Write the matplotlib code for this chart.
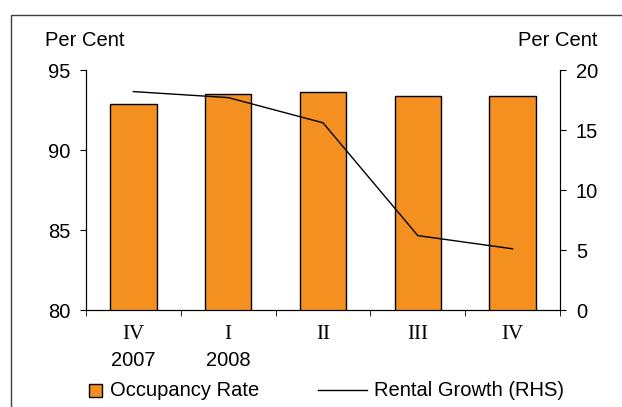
import numpy as np
import matplotlib.pyplot as plt
from matplotlib.patches import Rectangle
from matplotlib.lines import Line2D
import matplotlib.transforms as mtransforms

quarters = ["IV", "I", "II", "III", "IV"]
years = ["2007", "2008", "", "", ""]
occupancy = [92.85, 93.5, 93.6, 93.35, 93.35]
rental_growth = [18.2, 17.7, 15.6, 6.2, 5.1]

plt.rcParams['font.family'] = ['Liberation Sans', 'DejaVu Sans']
fs = 14.5
orange = '#F39020'

W, H = 622, 407
fig = plt.figure(figsize=(W / 100, H / 100), dpi=100)
fig.patches.append(Rectangle((11 / W, -0.1), 1.2, 1 - 15 / H + 0.1, transform=fig.transFigure,
                             fill=False, edgecolor='#404040', linewidth=1))

ax = fig.add_axes([86 / W, 1 - 310 / H, 474 / W, 240 / H])
x = np.arange(len(quarters))
ax.bar(x, occupancy, width=0.49, color=orange, edgecolor='black', linewidth=1, zorder=2)
ax.set_ylim(80, 95)
ax.set_xlim(-0.5, len(quarters) - 0.5)
ax.set_yticks([80, 85, 90, 95])
ax.tick_params(axis='y', direction='out', length=4.5, labelsize=fs, pad=7)

ax.set_xticks(x)
ax.set_xticklabels(quarters, family='Liberation Serif', fontsize=fs + 0.5)
ax.set_xticks(np.arange(len(quarters) + 1) - 0.5, minor=True)
ax.tick_params(axis='x', which='major', length=0, pad=11)
ax.tick_params(axis='x', which='minor', direction='out', length=4.5)
ax.spines['top'].set_visible(False)

trans = mtransforms.blended_transform_factory(ax.transData, fig.transFigure)
for i, yr in enumerate(years):
    if yr:
        ax.text(i, 1 - 361 / H, yr, transform=trans, ha='center', va='center', fontsize=fs)

ax2 = ax.twinx()
ax2.plot(x, rental_growth, color='black', linewidth=1, zorder=3)
ax2.set_ylim(0, 20)
ax2.set_yticks([0, 5, 10, 15, 20])
ax2.tick_params(axis='y', direction='out', length=4.5, labelsize=fs, pad=7)
ax2.spines['top'].set_visible(False)

fig.text(45 / W, 1 - 40 / H, "Per Cent", fontsize=fs, va='center', ha='left')
fig.text(597 / W, 1 - 40 / H, "Per Cent", fontsize=fs, va='center', ha='right')

# legend drawn by hand
ly = 1 - 390 / H
fig.patches.append(Rectangle((89 / W, 1 - 397 / H), 13 / W, 13 / H, transform=fig.transFigure,
                             facecolor=orange, edgecolor='black', linewidth=1))
fig.text(110 / W, ly, "Occupancy Rate", fontsize=fs, va='center', ha='left')
fig.lines.append(Line2D([318 / W, 367 / W], [ly, ly], transform=fig.transFigure,
                        color='black', linewidth=1))
fig.text(374 / W, ly, "Rental Growth (RHS)", fontsize=fs, va='center', ha='left')

fig.savefig('out.png', dpi=100)
